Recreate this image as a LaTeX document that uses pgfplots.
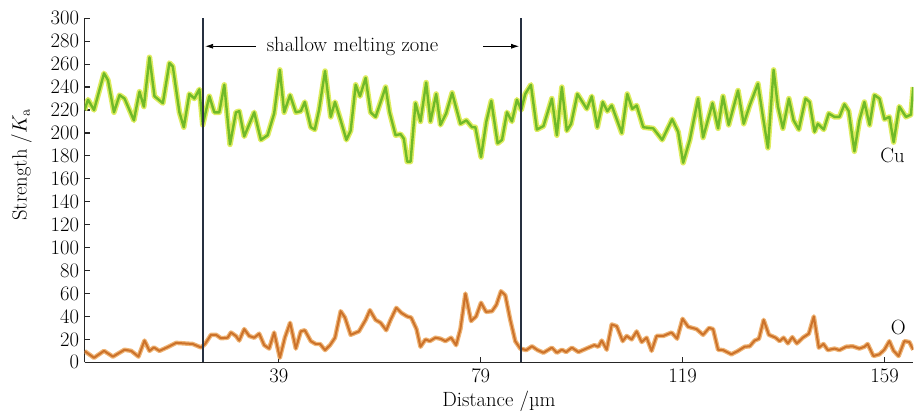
\documentclass[border=0pt]{standalone}
\usepackage{pgfplots}
\usepackage{pgfplotstable}
\pgfplotsset{compat=1.18}
\usetikzlibrary{arrows.meta}

\definecolor{cugreen}{RGB}{112,186,40}
\definecolor{cuhalo}{RGB}{222,236,96}
\definecolor{oorange}{RGB}{204,114,42}
\definecolor{ohalo}{RGB}{238,180,118}
\definecolor{zoneline}{RGB}{38,48,64}

% Cu signal along the scan
\pgfplotstableread{
x y
0.5 220
1.19 229
2.38 220
4.36 252
5.15 246
6.33 218
7.44 233
8.43 230
10.28 211
11.39 236
12.26 223
13.37 266
14.36 232
16.02 226
17.32 261
17.99 258
19.30 218
20.17 205
21.27 234
22.26 230
23.25 238
23.92 207
25.23 232
26.21 218
27.20 218
28.19 242
29.32 190
30.50 218
31.15 219
32.14 197
34.12 218
35.44 194
36.77 198
38.07 217
39.20 255
40.05 218
41.23 233
42.36 218
43.35 219
44.14 227
45.33 205
46.12 203
46.96 220
48.15 254
49.28 214
50.12 227
51.25 211
52.38 194
53.23 202
54.22 242
55.07 232
56.19 248
57.18 218
58.17 214
60.15 240
60.94 218
62.12 198
63.11 199
63.76 195
64.43 175
65.09 175
66.07 226
67.06 210
68.19 244
69.04 210
70.17 234
71.02 207
72.14 217
73.33 235
74.97 208
76.15 211
77.28 205
77.93 205
79.06 179
80.11 210
81.09 228
82.34 191
83.21 194
84.20 218
85.18 210
86.17 229
87.02 220
87.81 234
88.94 242
90.12 203
91.43 206
93.09 230
94.08 198
95.07 240
96.05 202
96.90 208
98.15 234
100.01 221
101.00 232
102.10 205
103.17 227
104.08 219
104.95 224
106.93 200
108.03 234
109.02 221
109.89 224
111.19 205
113.17 204
114.95 194
116.92 212
118.11 201
119.10 174
120.42 194
122.06 230
123.05 196
124.91 226
126.02 204
127.00 232
128.13 207
129.97 237
131.10 208
132.28 224
133.92 243
134.91 214
135.90 187
137.02 255
137.87 223
138.86 204
140.05 230
140.98 211
142.02 203
143.35 230
144.14 227
145.13 201
145.78 208
146.96 203
147.95 217
149.08 214
150.07 214
151.05 225
151.90 219
153.03 184
154.02 211
155.01 227
156.04 207
157.00 233
157.99 230
158.98 212
159.97 214
160.80 192
161.92 223
163.24 214
164.23 216
164.69 240
}\cudata

% O signal along the scan
\pgfplotstableread{
x y
0.52 9.8
2.38 4
4.36 10
6.13 5
8.43 11
9.75 10
11.19 5
12.38 19
13.37 10
14.24 13
15.34 10
17.32 14
18.64 17
20.28 16.5
21.94 16
23.58 13
24.38 16
25.56 24
26.55 24
27.54 21
28.86 21.5
29.51 26
30.50 23
31.15 19
32.14 29
33.13 23
34.12 21.5
35.11 25
36.09 15
37.08 12
38.07 26
39.20 4
40.19 21.5
41.23 34.5
42.36 12
43.35 27
44.14 28
45.33 18.5
46.31 16
47.16 16
48.15 10.7
49.14 15
50.13 21.5
51.25 44.6
52.10 39
53.23 24
54.87 27
56.19 37
57.04 45.5
58.17 37
59.16 34.5
60.28 28
61.13 37
62.26 47.5
63.31 43
64.43 40
65.22 39
66.27 29
67.06 13.6
68.05 20
68.90 18.5
70.03 21.5
71.02 20.6
72.00 18.5
73.13 21.5
74.12 15
74.97 29
75.96 60
77.08 36
78.07 40
79.06 52
80.05 44
81.23 44.6
82.08 50
83.01 62
83.86 58.5
84.85 37
85.84 18.5
86.83 12
88.01 10.7
89.14 14
90.25 10.7
91.43 8.4
93.09 12.8
94.08 8.4
95.07 11
95.92 9
97.05 12.8
98.36 9
100.33 12.8
101.51 15
102.30 13.6
102.97 19
103.96 11
104.95 33
105.93 31.6
107.12 18.5
107.91 23
108.90 20
109.89 27
110.88 17.7
111.87 21.5
112.85 10
113.84 23
115.15 23
116.81 26
117.91 20.6
118.98 38
120.09 31
121.75 29
123.05 24
124.24 30
125.03 29
126.02 11
127.00 10.7
128.66 7
129.97 10
131.29 13.6
132.28 14
133.27 19
134.12 20.6
135.05 37
136.09 24
137.42 21.5
138.21 18.5
139.00 21.5
139.85 16.5
140.72 22
141.63 16.5
142.81 21.5
144.00 25
144.99 40
145.98 12.8
146.91 16
147.76 10.7
149.08 12
150.07 10.7
151.39 13.6
152.70 14
154.02 12
155.01 13.6
155.66 16
156.79 5.5
157.97 7
158.96 11
159.95 18.5
160.80 10
161.79 5.5
162.92 18.5
163.91 17.7
164.69 11
}\odata

\begin{document}
\begin{tikzpicture}[font=\fontsize{20.74}{25}\selectfont]
\begin{axis}[
  scale only axis, width=831bp, height=345bp,
  xmin=0.5, xmax=164.7, ymin=0, ymax=300,
  axis x line*=bottom, axis y line*=left,
  axis line style={line width=1.4pt, draw=black!85},
  xtick={39,79,119,159}, ytick={0,20,...,300},
  tick align=inside, major tick length=5bp,
  tick style={line width=1.2pt, black!85},
  /pgf/number format/assume math mode=true,
  ticklabel style={font=\fontsize{20.74}{25}\selectfont},
  label style={font=\fontsize{20.74}{25}\selectfont},
  yticklabel style={xshift=-2bp},
  xticklabel style={yshift=-3bp},
  xlabel={Distance /\textmu m},
  ylabel={Strength /$K_\mathrm{a}$},
  xlabel style={yshift=-1bp},
  ylabel style={at={(ticklabel cs:0.574)}, anchor=near ticklabel},
  ylabel shift=12bp,
]
  % Cu line with pale halo
  \addplot[cuhalo, line width=5.5bp, line join=round] table {\cudata};
  \addplot[cugreen, line width=2.4bp, line join=round] table {\cudata};
  % O line with pale halo
  \addplot[ohalo, line width=4.5bp, line join=round] table {\odata};
  \addplot[oorange, line width=2bp, line join=round] table {\odata};

  % zone boundaries
  \draw[zoneline, line width=1.5pt] (axis cs:24,0) -- (axis cs:24,300);
  \draw[zoneline, line width=1.5pt] (axis cs:87,0) -- (axis cs:87,300);
  \draw[-{Latex[length=8bp,width=5bp]}, line width=0.8pt]
    (axis cs:34.4,275.6) -- (axis cs:24.4,275.6);
  \draw[-{Latex[length=8bp,width=5bp]}, line width=0.8pt]
    (axis cs:79.5,275.6) -- (axis cs:86.6,275.6);
  \node at (axis cs:53.6,275.6) {shallow melting zone};

  \node at (axis cs:160.6,180) {Cu};
  \node at (axis cs:161.7,30) {O};
\end{axis}
% a little white space left of the y label and above the axis, as in the reference
\path ([xshift=-8bp]current bounding box.west);
\path ([yshift=8bp]current bounding box.north);
\end{tikzpicture}
\end{document}
